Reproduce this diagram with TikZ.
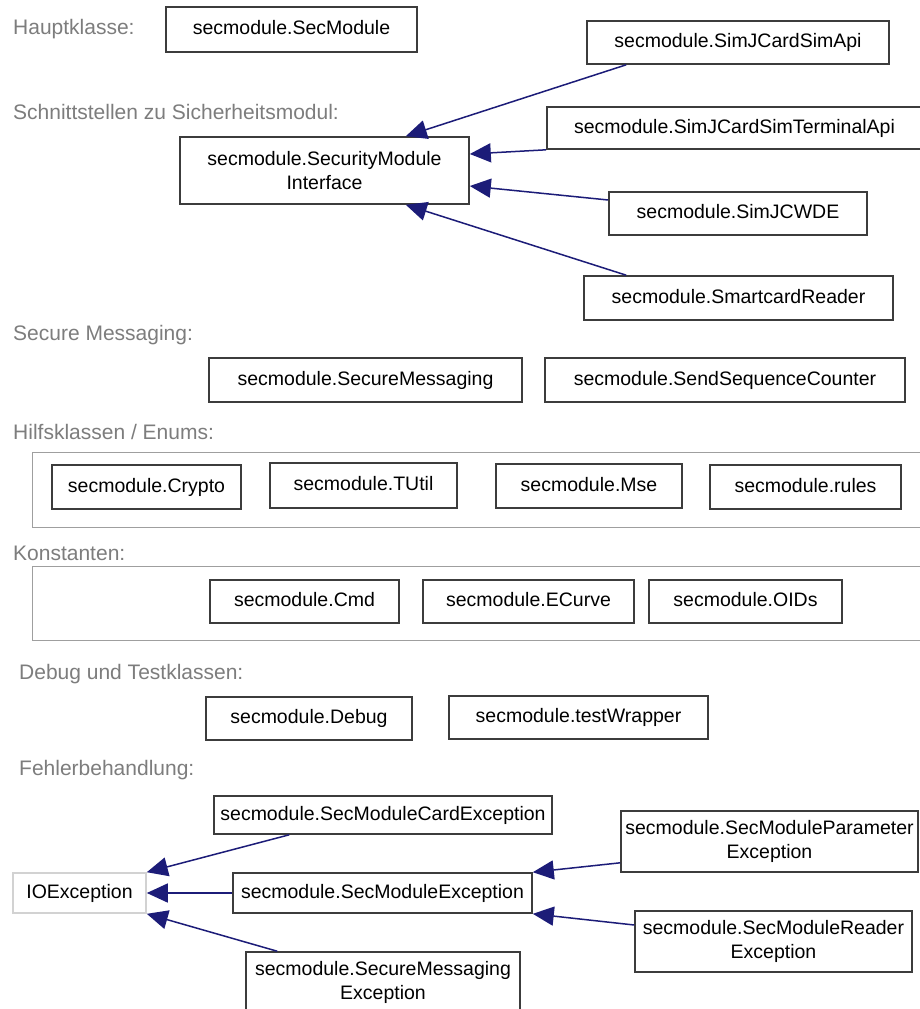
\documentclass[tikz,border=0pt]{standalone}
\usepackage{fontspec}
\setmainfont{Liberation Sans}
\usetikzlibrary{arrows.meta}
\definecolor{umlblue}{RGB}{28,28,120}
\definecolor{framegray}{RGB}{60,60,60}
\definecolor{headgray}{RGB}{125,125,125}
\tikzset{
  cls/.style={draw=framegray, line width=1.6pt, inner sep=0pt, font=\fontsize{19.5}{24}\selectfont, text height=14pt, text depth=4pt},
  clstwo/.style={draw=framegray, line width=1.6pt, inner sep=0pt, align=center, font=\fontsize{19.5}{24}\selectfont},
  heading/.style={anchor=base west, inner sep=0pt, text=headgray, font=\fontsize{21}{24}\selectfont},
  grpbox/.style={draw=gray!75, line width=0.9pt},
  inherit/.style={umlblue, line width=1.5pt, -{Triangle[length=21pt,width=19pt]}},
}
\begin{document}
\begin{tikzpicture}[x=1pt, y=-1pt]
		\useasboundingbox[fill=white] (0,0) rectangle (919,1009);
		%
		\node[heading] (hhaupt) at (13,34.5) {Hauptklasse:};
		\node[heading] (hschnitt) at (13,119.5) {Schnittstellen zu Sicherheitsmodul:};
		\node[heading] (hsecure) at (13,340.5) {Secure Messaging:};
		\node[heading] (hhilf) at (13,439.5) {Hilfsklassen / Enums:};
		\node[heading] (hkonst) at (13,560.5) {Konstanten:};
		\node[heading] (hdebug) at (19,679.5) {Debug und Testklassen:};
		\node[heading] (hfehler) at (19,775.5) {Fehlerbehandlung:};
		%
		\node[cls, minimum width=251pt, minimum height=45pt] (secmod) at (291.5,29.5) {secmodule.SecModule};
		%
		\node[clstwo, minimum width=289pt, minimum height=67pt] (smi) at (324.5,170.5) {secmodule.SecurityModule\\Interface};
		\node[cls, minimum width=302pt, minimum height=43pt] (simapi) at (738,42.5) {secmodule.SimJCardSimApi};
		\node[cls, minimum width=375pt, minimum height=42pt] (simterm) at (734.5,128) {secmodule.SimJCardSimTerminalApi};
		\node[cls, minimum width=258pt, minimum height=43pt] (simwde) at (738,213.5) {secmodule.SimJCWDE};
		\node[cls, minimum width=309pt, minimum height=44pt] (scr) at (738.5,298) {secmodule.SmartcardReader};
		%
		\draw[inherit] ([xshift=40pt]simapi.south west) -- ([xshift=-64pt]smi.north east);
		\draw[inherit] (simterm.south west) -- ([yshift=16.5pt]smi.east);
		\draw[inherit] ([yshift=13.5pt]simwde.west) -- ([yshift=-15.5pt]smi.east);
		\draw[inherit] ([xshift=43pt]scr.north west) -- ([xshift=-64pt]smi.south east);
		%
		\node[cls, minimum width=313pt, minimum height=44pt] (sm) at (365.5,380) {secmodule.SecureMessaging};
		\node[cls, minimum width=360pt, minimum height=44pt] (ssc) at (725,380) {secmodule.SendSequenceCounter};
		%
		\draw[grpbox] (32,452) rectangle (922,527);
		\node[cls, line width=2.2pt, minimum width=189pt, minimum height=44pt] (crypto) at (146.5,487) {secmodule.Crypto};
		\node[cls, minimum width=187pt, minimum height=45pt] (tutil) at (363.5,485.5) {secmodule.TUtil};
		\node[cls, minimum width=186pt, minimum height=44pt] (mse) at (589,486) {secmodule.Mse};
		\node[cls, line width=2.2pt, minimum width=191pt, minimum height=44pt] (rules) at (805.5,487) {secmodule.rules};
		%
		\draw[grpbox] (32,566) rectangle (922,640);
		\node[cls, minimum width=189pt, minimum height=43pt] (cmd) at (304.5,601.5) {secmodule.Cmd};
		\node[cls, minimum width=211pt, minimum height=43pt] (ecurve) at (528.5,601.5) {secmodule.ECurve};
		\node[cls, minimum width=193pt, minimum height=43pt] (oids) at (745.5,601.5) {secmodule.OIDs};
		%
		\node[cls, minimum width=206pt, minimum height=43pt] (debug) at (309,718.5) {secmodule.Debug};
		\node[cls, minimum width=259pt, minimum height=43pt] (testw) at (578.5,717.5) {secmodule.testWrapper};
		%
		\node[cls, draw=gray!35, minimum width=133pt, minimum height=40pt] (ioex) at (79.5,893) {IOException};
		\node[cls, minimum width=338pt, minimum height=38pt] (smce) at (383,815) {secmodule.SecModuleCardException};
		\node[cls, minimum width=299pt, minimum height=40pt] (sme) at (382.5,893) {secmodule.SecModuleException};
		\node[clstwo, minimum width=274pt, minimum height=60pt] (smsge) at (383,982) {secmodule.SecureMessaging\\Exception};
		\node[clstwo, minimum width=297pt, minimum height=61pt] (smpe) at (769.5,841.5) {secmodule.SecModuleParameter\\Exception};
		\node[clstwo, minimum width=277pt, minimum height=61pt] (smre) at (773.5,941.5) {secmodule.SecModuleReader\\Exception};
		%
		\draw[inherit] ([xshift=76pt]smce.south west) -- (ioex.north east);
		\draw[inherit] (sme.west) -- (ioex.east);
		\draw[inherit] ([xshift=32pt]smsge.north west) -- (ioex.south east);
		\draw[inherit] ([yshift=10pt]smpe.south west) -- (sme.north east);
		\draw[inherit] ([yshift=16.5pt]smre.west) -- (sme.south east);
		%
\end{tikzpicture}
\end{document}
